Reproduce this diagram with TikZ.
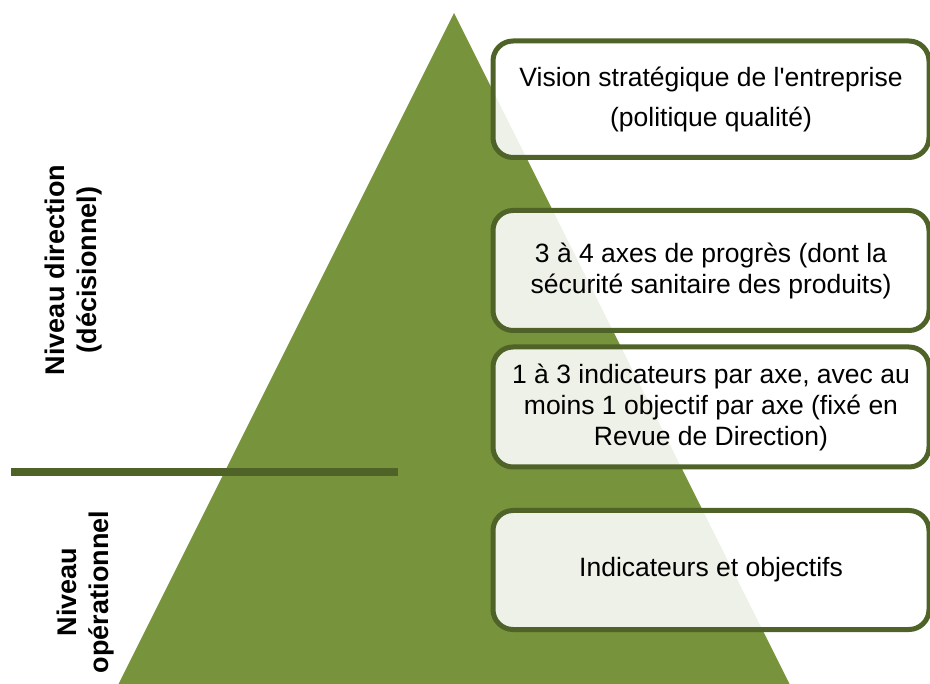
\documentclass[tikz,border=0pt]{standalone}
\usepackage{fontspec}
\setmainfont{Liberation Sans}
\definecolor{tri}{HTML}{77933C}
\definecolor{edge}{HTML}{4F6228}
\begin{document}
\begin{tikzpicture}[x=1pt,y=-1pt,
  box/.style={draw=edge, line width=5pt, fill=white, fill opacity=0.88, draw opacity=1, text opacity=1,
    rounded corners=20pt, minimum width=436pt, align=center, inner sep=0pt,
    font=\fontsize{26.5}{31}\selectfont},
  lbl/.style={rotate=90, align=center, font=\bfseries\fontsize{27}{32}\selectfont}]
\useasboundingbox (0,0) rectangle (930,684);
\fill[tri] (454,13) -- (789.5,684) -- (118.5,684) -- cycle;
\coordinate (ls) at (11,472);
\coordinate (le) at (398,472);
\draw[edge, line width=7.7pt] (ls) -- (le);
\node[box, minimum height=116.5pt] (b1) at (711,99.25) {Vision stratégique de l\textquotesingle entreprise\\[9pt](politique qualité)};
\node[box, minimum height=120pt] (b2) at (711,270.5) {3 à 4 axes de progrès (dont la\\sécurité sanitaire des produits)};
\node[box, minimum height=120pt] (b3) at (711,407) {1 à 3 indicateurs par axe, avec au\\moins 1 objectif par axe (fixé en\\Revue de Direction)};
\node[box, minimum height=119pt] (b4) at (711,570) {Indicateurs et objectifs};
\node[lbl] (l1) at (74,270) {Niveau direction\\(décisionnel)};
\node[lbl] (l2) at (86,592) {Niveau\\opérationnel};
\end{tikzpicture}
\end{document}
